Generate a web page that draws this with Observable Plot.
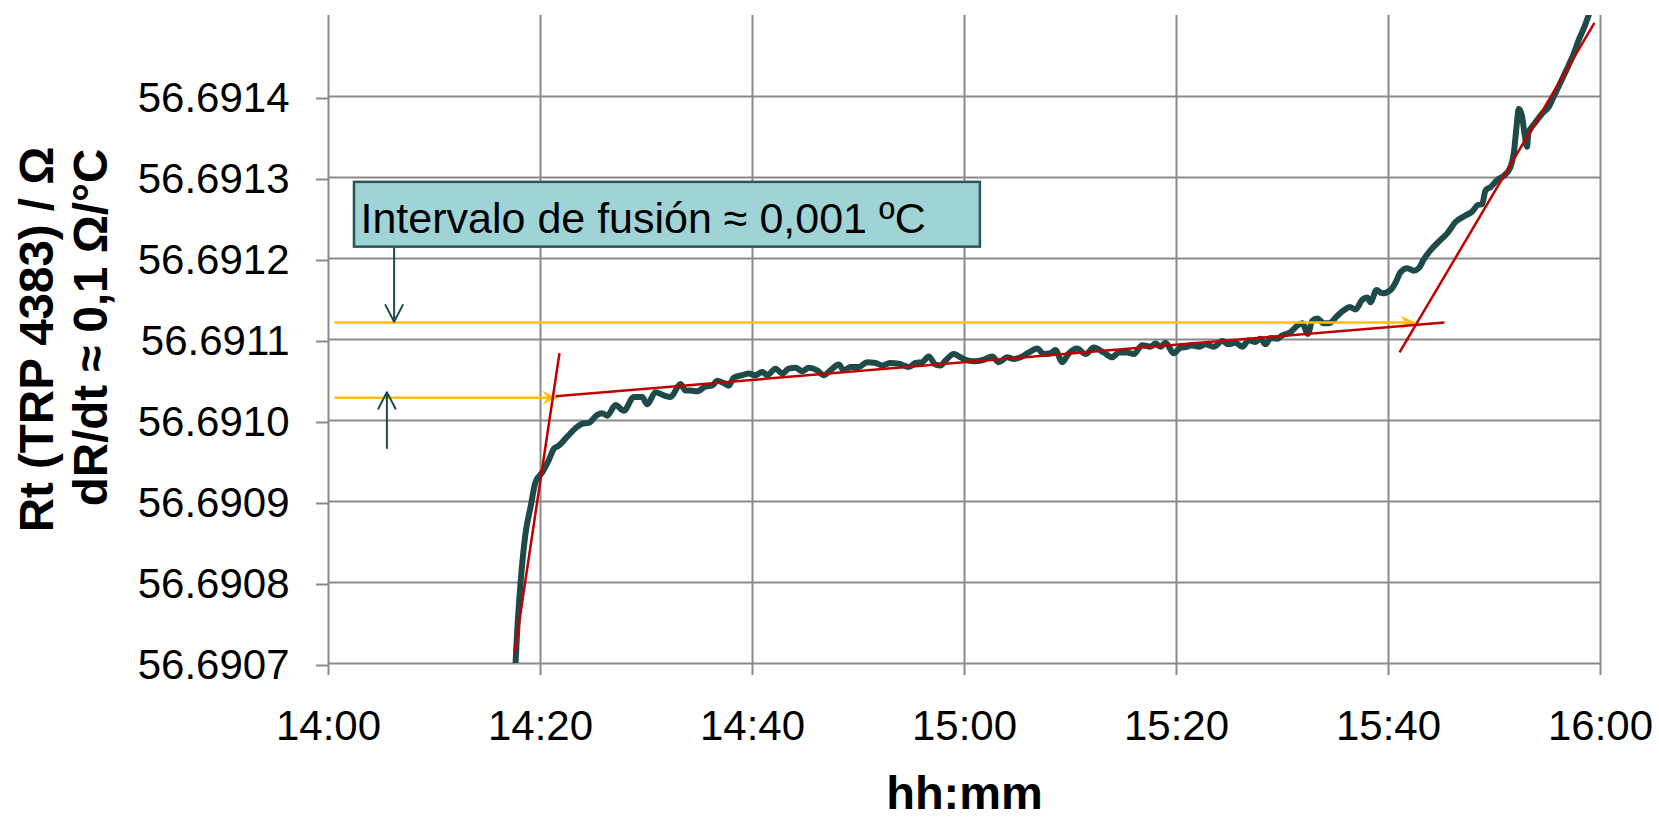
<!DOCTYPE html>
<html><head><meta charset="utf-8">
<script src="https://cdn.jsdelivr.net/npm/d3@7"></script>
<script src="https://cdn.jsdelivr.net/npm/@observablehq/plot@0.6"></script>
<style>body{margin:0;background:#fff}</style>
</head><body><div id="chart"></div>
<script>
// ---- data ----
const startClock = "14:00";
const xTickLabels = ["14:00","14:20","14:40","15:00","15:20","15:40","16:00"];
const yTickValues = [56.6907,56.6908,56.6909,56.6910,56.6911,56.6912,56.6913,56.6914];
const yDomain = [56.6907, 56.6915];

// measured curve: minutes after 14:00, Rt in ohm
const curveMinutes = [
17.64,17.80,18.11,18.58,19.06,19.53,20.16,20.78,21.25,21.73,
22.52,23.46,23.93,24.56,25.35,25.82,26.29,27.08,27.86,28.80,
29.59,30.07,30.85,31.63,32.26,33.21,33.68,34.15,34.78,35.57,
36.20,36.67,37.45,37.76,38.24,39.03,39.65,40.28,40.92,41.39,
42.17,42.80,43.42,44.06,44.69,45.31,46.10,46.73,47.36,48.14,
48.61,49.25,50.03,50.82,51.60,52.24,53.02,53.80,54.75,55.38,
56.01,56.63,57.26,57.74,58.21,58.99,59.62,60.09,60.88,61.82,
62.61,63.24,64.03,64.65,65.28,66.07,66.86,67.48,68.11,68.58,
69.22,69.84,70.63,71.42,72.20,73.14,73.93,74.56,75.35,75.97,
76.76,77.55,78.02,78.49,78.96,79.75,80.38,81.01,81.32,82.10,
82.74,83.52,84.31,84.93,85.57,86.20,86.82,87.45,87.92,88.40,
88.87,89.50,89.97,90.75,91.39,91.86,92.39,92.80,93.27,93.90,
94.37,95.16,95.78,96.35,96.89,97.52,97.99,98.30,98.87,99.41,
100.19,100.66,101.13,101.76,102.39,102.86,103.33,103.96,104.91,105.54,
106.32,107.26,107.90,108.42,108.84,109.15,109.62,110.25,110.88,111.51,
111.82,112.08,112.29,112.61,112.83,113.08,113.18,113.56,114.03,114.50,
115.12,115.59,116.07,116.54,117.01,117.48,117.95,118.42,118.90];
const curveRt = [
56.690699,56.690740,56.690798,56.690860,56.690893,56.690924,56.690936,56.690951,56.690965,56.690969,
56.690980,56.690992,56.690996,56.690997,56.691007,56.691009,56.691006,56.691019,56.691012,56.691029,
56.691029,56.691020,56.691035,56.691031,56.691029,56.691045,56.691037,56.691037,56.691036,56.691042,
56.691043,56.691049,56.691045,56.691043,56.691053,56.691056,56.691058,56.691056,56.691060,56.691056,
56.691064,56.691058,56.691064,56.691065,56.691061,56.691065,56.691062,56.691056,56.691062,56.691069,
56.691062,56.691066,56.691066,56.691072,56.691071,56.691068,56.691071,56.691070,56.691066,56.691071,
56.691072,56.691079,56.691069,56.691068,56.691074,56.691082,56.691078,56.691075,56.691073,56.691075,
56.691079,56.691072,56.691078,56.691076,56.691078,56.691084,56.691089,56.691082,56.691083,56.691087,
56.691072,56.691083,56.691089,56.691082,56.691090,56.691084,56.691078,56.691084,56.691084,56.691082,
56.691093,56.691091,56.691095,56.691091,56.691096,56.691083,56.691090,56.691091,56.691093,56.691091,
56.691094,56.691091,56.691098,56.691094,56.691096,56.691091,56.691099,56.691097,56.691101,56.691094,
56.691102,56.691101,56.691105,56.691109,56.691117,56.691120,56.691107,56.691123,56.691126,56.691120,
56.691120,56.691129,56.691136,56.691140,56.691137,56.691149,56.691152,56.691146,56.691161,56.691157,
56.691161,56.691170,56.691183,56.691188,56.691185,56.691188,56.691199,56.691210,56.691223,56.691231,
56.691245,56.691253,56.691258,56.691266,56.691267,56.691284,56.691288,56.691297,56.691302,56.691313,
56.691330,56.691363,56.691385,56.691375,56.691354,56.691338,56.691354,56.691363,56.691371,56.691379,
56.691387,56.691400,56.691413,56.691426,56.691439,56.691453,56.691470,56.691484,56.691501];

// red tangent lines
const fitStartMin = [17.55, 21.42, 101.04];
const fitEndMin   = [21.79, 105.28, 119.43];
const fitStartRt  = [56.690713, 56.691030, 56.691084];
const fitEndRt    = [56.691083, 56.691121, 56.691491];

// yellow level arrows
const levelStartMin = [0.57, 0.57];
const levelEndMin   = [102.5, 21.57];
const levelRt       = [56.691121, 56.691028];

// dark pointer arrows
const pointerMin    = [6.19, 5.51];
const pointerFromRt = [56.691214, 56.690966];
const pointerToRt   = [56.691122, 56.691035];

// annotation
const noteText = "Intervalo de fusión ≈ 0,001 ºC";
const noteMin = [2.45, 61.5];
const noteRt  = [56.691214, 56.691294];
const noteTextMin = 3.02, noteTextRt = 56.691249;

const yTitle1 = "Rt (TRP 4383) / Ω";
const yTitle2 = "dR/dt ≈ 0,1 Ω/°C";
const xTitle = "hh:mm";

// ---- build ----
const parseClock = d3.utcParse("%H:%M");
const t0 = parseClock(startClock);
const at = m => new Date(+t0 + m * 60000);
const xTicks = xTickLabels.map(parseClock);

const curve = curveMinutes.map((m, i) => ({t: at(m), r: curveRt[i]}));
const fits = fitStartMin.map((m, i) => ({x1: at(m), x2: at(fitEndMin[i]), y1: fitStartRt[i], y2: fitEndRt[i]}));
const levels = levelStartMin.map((m, i) => ({x1: at(m), x2: at(levelEndMin[i]), y: levelRt[i]}));
const pointers = pointerMin.map((m, i) => ({x: at(m), y1: pointerFromRt[i], y2: pointerToRt[i]}));
const note = [{x1: at(noteMin[0]), x2: at(noteMin[1]), y1: noteRt[0], y2: noteRt[1]}];

const stealthRight = {
  draw(ctx) {
    const L = 15, W = 14;
    ctx.moveTo(0, 0);
    ctx.lineTo(-L, -W / 2);
    ctx.lineTo(-0.62 * L, 0);
    ctx.lineTo(-L, W / 2);
    ctx.closePath();
  }
};

const gridColor = "#8a8a8a";
const font = "'Liberation Sans', Arial, sans-serif";

const chart = Plot.plot({
  width: 1659, height: 817,
  marginLeft: 328, marginRight: 59, marginTop: 15, marginBottom: 154,
  x: {type: "utc", domain: [at(0), at(120)], label: null},
  y: {domain: yDomain, label: null},
  style: {fontFamily: font, background: "white", color: "black"},
  marks: [
    Plot.gridY(yTickValues, {stroke: gridColor, strokeOpacity: 1, strokeWidth: 2}),
    Plot.gridX(xTicks, {stroke: gridColor, strokeOpacity: 1, strokeWidth: 2}),
    Plot.axisY({ticks: yTickValues, tickFormat: d3.format(".4f"), tickSize: 12, tickPadding: 27,
      fontSize: 42, stroke: gridColor, strokeWidth: 2, fill: "black", label: null, dy: 2}),
    Plot.axisX({ticks: xTicks, tickFormat: d3.utcFormat("%H:%M"), tickSize: 12, tickPadding: 35,
      fontSize: 42, stroke: gridColor, strokeWidth: 2, fill: "black", label: null}),
    Plot.line(curve, {x: "t", y: "r", stroke: "#1f4a4a", strokeWidth: 6, curve: "monotone-x", clip: true,
      strokeLinejoin: "round"}),
    Plot.link(levels, {x1: "x1", x2: "x2", y1: "y", y2: "y", stroke: "#ffc000", strokeWidth: 2.6}),
    Plot.dot(levels, {x: "x2", y: "y", symbol: stealthRight, fill: "#ffc000", r: 5}),
    Plot.link(fits, {x1: "x1", x2: "x2", y1: "y1", y2: "y2", stroke: "#c00000", strokeWidth: 2.5}),
    Plot.arrow(pointers, {x: "x", y1: "y1", y2: "y2", stroke: "#1f4a4a", strokeWidth: 2,
      headLength: 14, headAngle: 55}),
    Plot.rect(note, {x1: "x1", x2: "x2", y1: "y1", y2: "y2", fill: "#9fd3d6", stroke: "#2b5757", strokeWidth: 2.5}),
    Plot.text([noteText], {x: at(noteTextMin), y: noteTextRt, text: d => d, textAnchor: "start",
      lineAnchor: "middle", fontSize: 43, fill: "black"}),
    Plot.text([yTitle1], {frameAnchor: "left", text: d => d, rotate: -90, dx: -276, textAnchor: "middle",
      lineAnchor: "bottom", fontSize: 47.5, fontWeight: "bold", fill: "black"}),
    Plot.text([yTitle2], {frameAnchor: "left", text: d => d, rotate: -90, dx: -222, dy: -12, textAnchor: "middle",
      lineAnchor: "bottom", fontSize: 47.5, fontWeight: "bold", fill: "black"}),
    Plot.text([xTitle], {frameAnchor: "bottom", text: d => d, dy: 145, textAnchor: "middle",
      lineAnchor: "bottom", fontSize: 47, fontWeight: "bold", fill: "black"})
  ]
});
document.getElementById("chart").appendChild(chart);
</script>
</body></html>
